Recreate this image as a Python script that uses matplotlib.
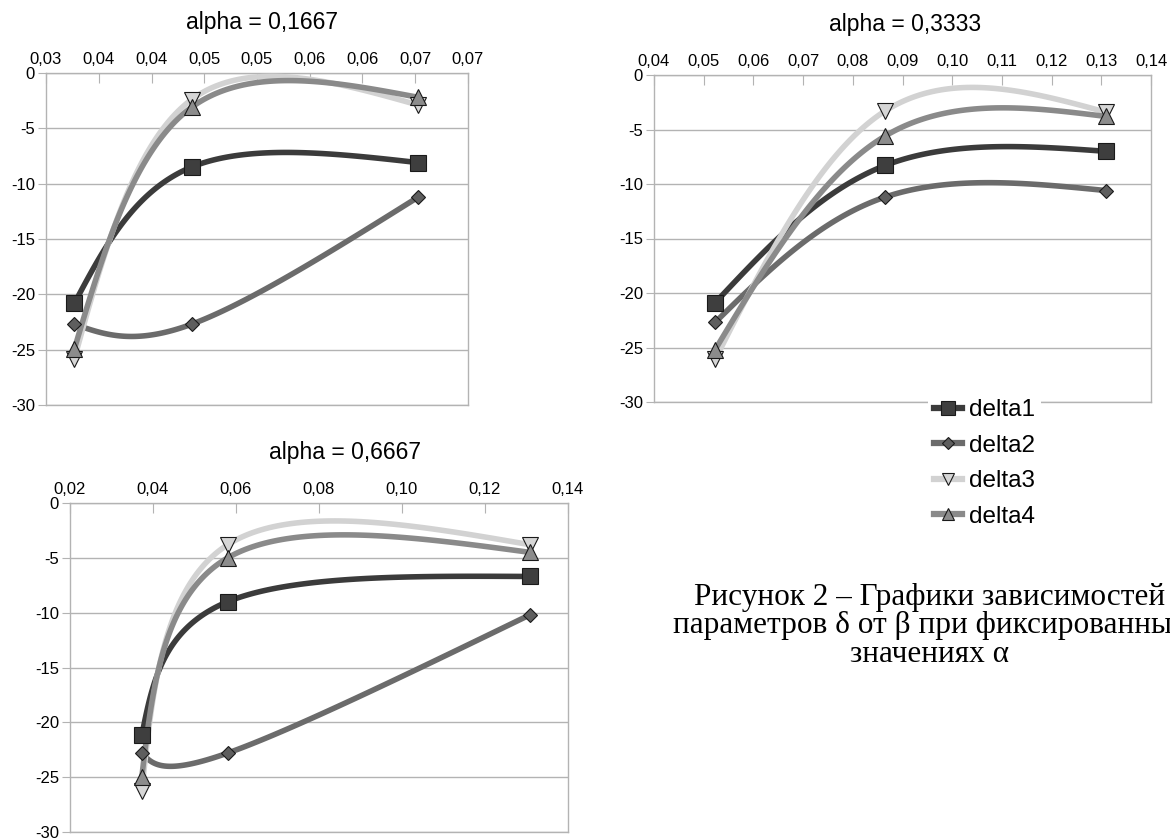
import numpy as np
import matplotlib
matplotlib.use("Agg")
import matplotlib.pyplot as plt
from matplotlib.lines import Line2D

plt.rcParams["font.family"] = ["Liberation Sans", "DejaVu Sans"]

W, H = 1170, 839

series_names = ["delta1", "delta2", "delta3", "delta4"]

# alpha = 0,1667
beta_a1 = [0.0327, 0.0438, 0.0653]
delta_a1 = [
    [-20.8, -8.5, -8.1],
    [-22.7, -22.7, -11.2],
    [-25.8, -2.4, -2.9],
    [-24.9, -3.1, -2.2],
]
xticks_a1 = [0.03, 0.035, 0.04, 0.045, 0.05, 0.055, 0.06, 0.065, 0.07]
xlabels_a1 = ["0,03", "0,04", "0,04", "0,05", "0,05", "0,06", "0,06", "0,07", "0,07"]

# alpha = 0,3333
beta_a2 = [0.0523, 0.0865, 0.1309]
delta_a2 = [
    [-20.9, -8.3, -7.0],
    [-22.7, -11.2, -10.6],
    [-26.1, -3.3, -3.4],
    [-25.2, -5.6, -3.8],
]
xticks_a2 = [0.04, 0.05, 0.06, 0.07, 0.08, 0.09, 0.10, 0.11, 0.12, 0.13, 0.14]
xlabels_a2 = ["0,04", "0,05", "0,06", "0,07", "0,08", "0,09", "0,10", "0,11", "0,12", "0,13", "0,14"]

# alpha = 0,6667
beta_a3 = [0.0373, 0.0580, 0.1308]
delta_a3 = [
    [-21.2, -9.0, -6.7],
    [-22.8, -22.8, -10.2],
    [-26.3, -3.8, -3.8],
    [-25.0, -5.0, -4.5],
]
xticks_a3 = [0.02, 0.04, 0.06, 0.08, 0.10, 0.12, 0.14]
xlabels_a3 = ["0,02", "0,04", "0,06", "0,08", "0,10", "0,12", "0,14"]

yticks = [0, -5, -10, -15, -20, -25, -30]
ylabels = ["0", "-5", "-10", "-15", "-20", "-25", "-30"]

titles = ["alpha = 0,1667", "alpha = 0,3333", "alpha = 0,6667"]
caption = ["Рисунок 2 – Графики зависимостей",
           "параметров δ от β при фиксированных",
           "значениях α"]

line_colors = ["#3b3b3b", "#6b6b6b", "#d2d2d2", "#8a8a8a"]
face_colors = ["#3e3e3e", "#5e5e5e", "#d6d6d6", "#8c8c8c"]
markers = ["s", "D", "v", "^"]
msizes = [12, 7.5, 11, 11]


def spline(xs, ys, n=60):
    # natural cubic spline over the point index, like the office chart smoothing
    def second(v):
        k = len(v)
        A = np.zeros((k, k))
        r = np.zeros(k)
        A[0, 0] = A[-1, -1] = 1
        for i in range(1, k - 1):
            A[i, i - 1], A[i, i], A[i, i + 1] = 1, 4, 1
            r[i] = 6 * (v[i + 1] - 2 * v[i] + v[i - 1])
        return np.linalg.solve(A, r)

    out = []
    for v in (np.asarray(xs, float), np.asarray(ys, float)):
        M = second(v)
        pts = []
        for i in range(len(v) - 1):
            u = np.linspace(0, 1, n)
            s = ((1 - u) * v[i] + u * v[i + 1]
                 + ((1 - u) ** 3 - (1 - u)) * M[i] / 6
                 + (u ** 3 - u) * M[i + 1] / 6)
            pts.append(s if i == 0 else s[1:])
        out.append(np.concatenate(pts))
    return out


def px_axes(x0, y0, x1, y1):
    return fig.add_axes([x0 / W, 1 - y1 / H, (x1 - x0) / W, (y1 - y0) / H])


def draw_chart(ax, beta, deltas, xt, xl, title, title_x):
    for k in range(4):
        sx, sy = spline(beta, deltas[k])
        ax.plot(sx, sy, color=line_colors[k], lw=4, solid_capstyle="butt", zorder=3 + k)
        ax.plot(beta, deltas[k], ls="none", marker=markers[k], ms=msizes[k],
                mfc=face_colors[k], mec="#1a1a1a", mew=0.8, zorder=10 + k)
    ax.set_xlim(xt[0], xt[-1])
    ax.set_ylim(-30, 0)
    ax.xaxis.tick_top()
    ax.set_xticks(xt, xl)
    ax.set_yticks(yticks, ylabels)
    ax.tick_params(axis="x", direction="in", length=7, color="#b3b3b3", labelsize=12, pad=4)
    ax.tick_params(axis="y", direction="out", length=6, color="#b3b3b3", labelsize=12, pad=2)
    ax.yaxis.grid(True, color="#b3b3b3", lw=1)
    ax.set_axisbelow(True)
    for sp in ax.spines.values():
        sp.set_color("#b3b3b3")
        sp.set_linewidth(1)
    ax.set_facecolor("white")
    bb = ax.get_position()
    fig.text(title_x / W, bb.y1 + 51 / H, title, ha="center", va="center", fontsize=16.5)


fig = plt.figure(figsize=(W / 100, H / 100), dpi=100)

ax1 = px_axes(46, 73, 468, 405)
draw_chart(ax1, beta_a1, delta_a1, xticks_a1, xlabels_a1, titles[0], 262)

ax2 = px_axes(654, 75, 1151, 402)
draw_chart(ax2, beta_a2, delta_a2, xticks_a2, xlabels_a2, titles[1], 905)

ax3 = px_axes(70, 503, 568, 832)
draw_chart(ax3, beta_a3, delta_a3, xticks_a3, xlabels_a3, titles[2], 345)

handles = [Line2D([], [], color=line_colors[k], lw=4.5, marker=markers[k], ms=msizes[k] * 0.85,
                  mfc=face_colors[k], mec="#1a1a1a", mew=0.8) for k in range(4)]
leg = fig.legend(handles, series_names, loc="upper left", bbox_to_anchor=(928 / W, 1 - 393 / H),
                 fontsize=17.5, frameon=True, handlelength=1.15, handletextpad=0.3,
                 labelspacing=0.56, borderpad=0.25, borderaxespad=0)
leg.get_frame().set_facecolor("white")
leg.get_frame().set_edgecolor("none")
leg.get_frame().set_alpha(1)

for i, line in enumerate(caption):
    fig.text(930 / W, 1 - (597 + i * 29) / H, line, ha="center", va="center",
             fontsize=22.5, family=["Liberation Serif", "DejaVu Serif"])

fig.savefig("out.png", dpi=100, facecolor="white")
